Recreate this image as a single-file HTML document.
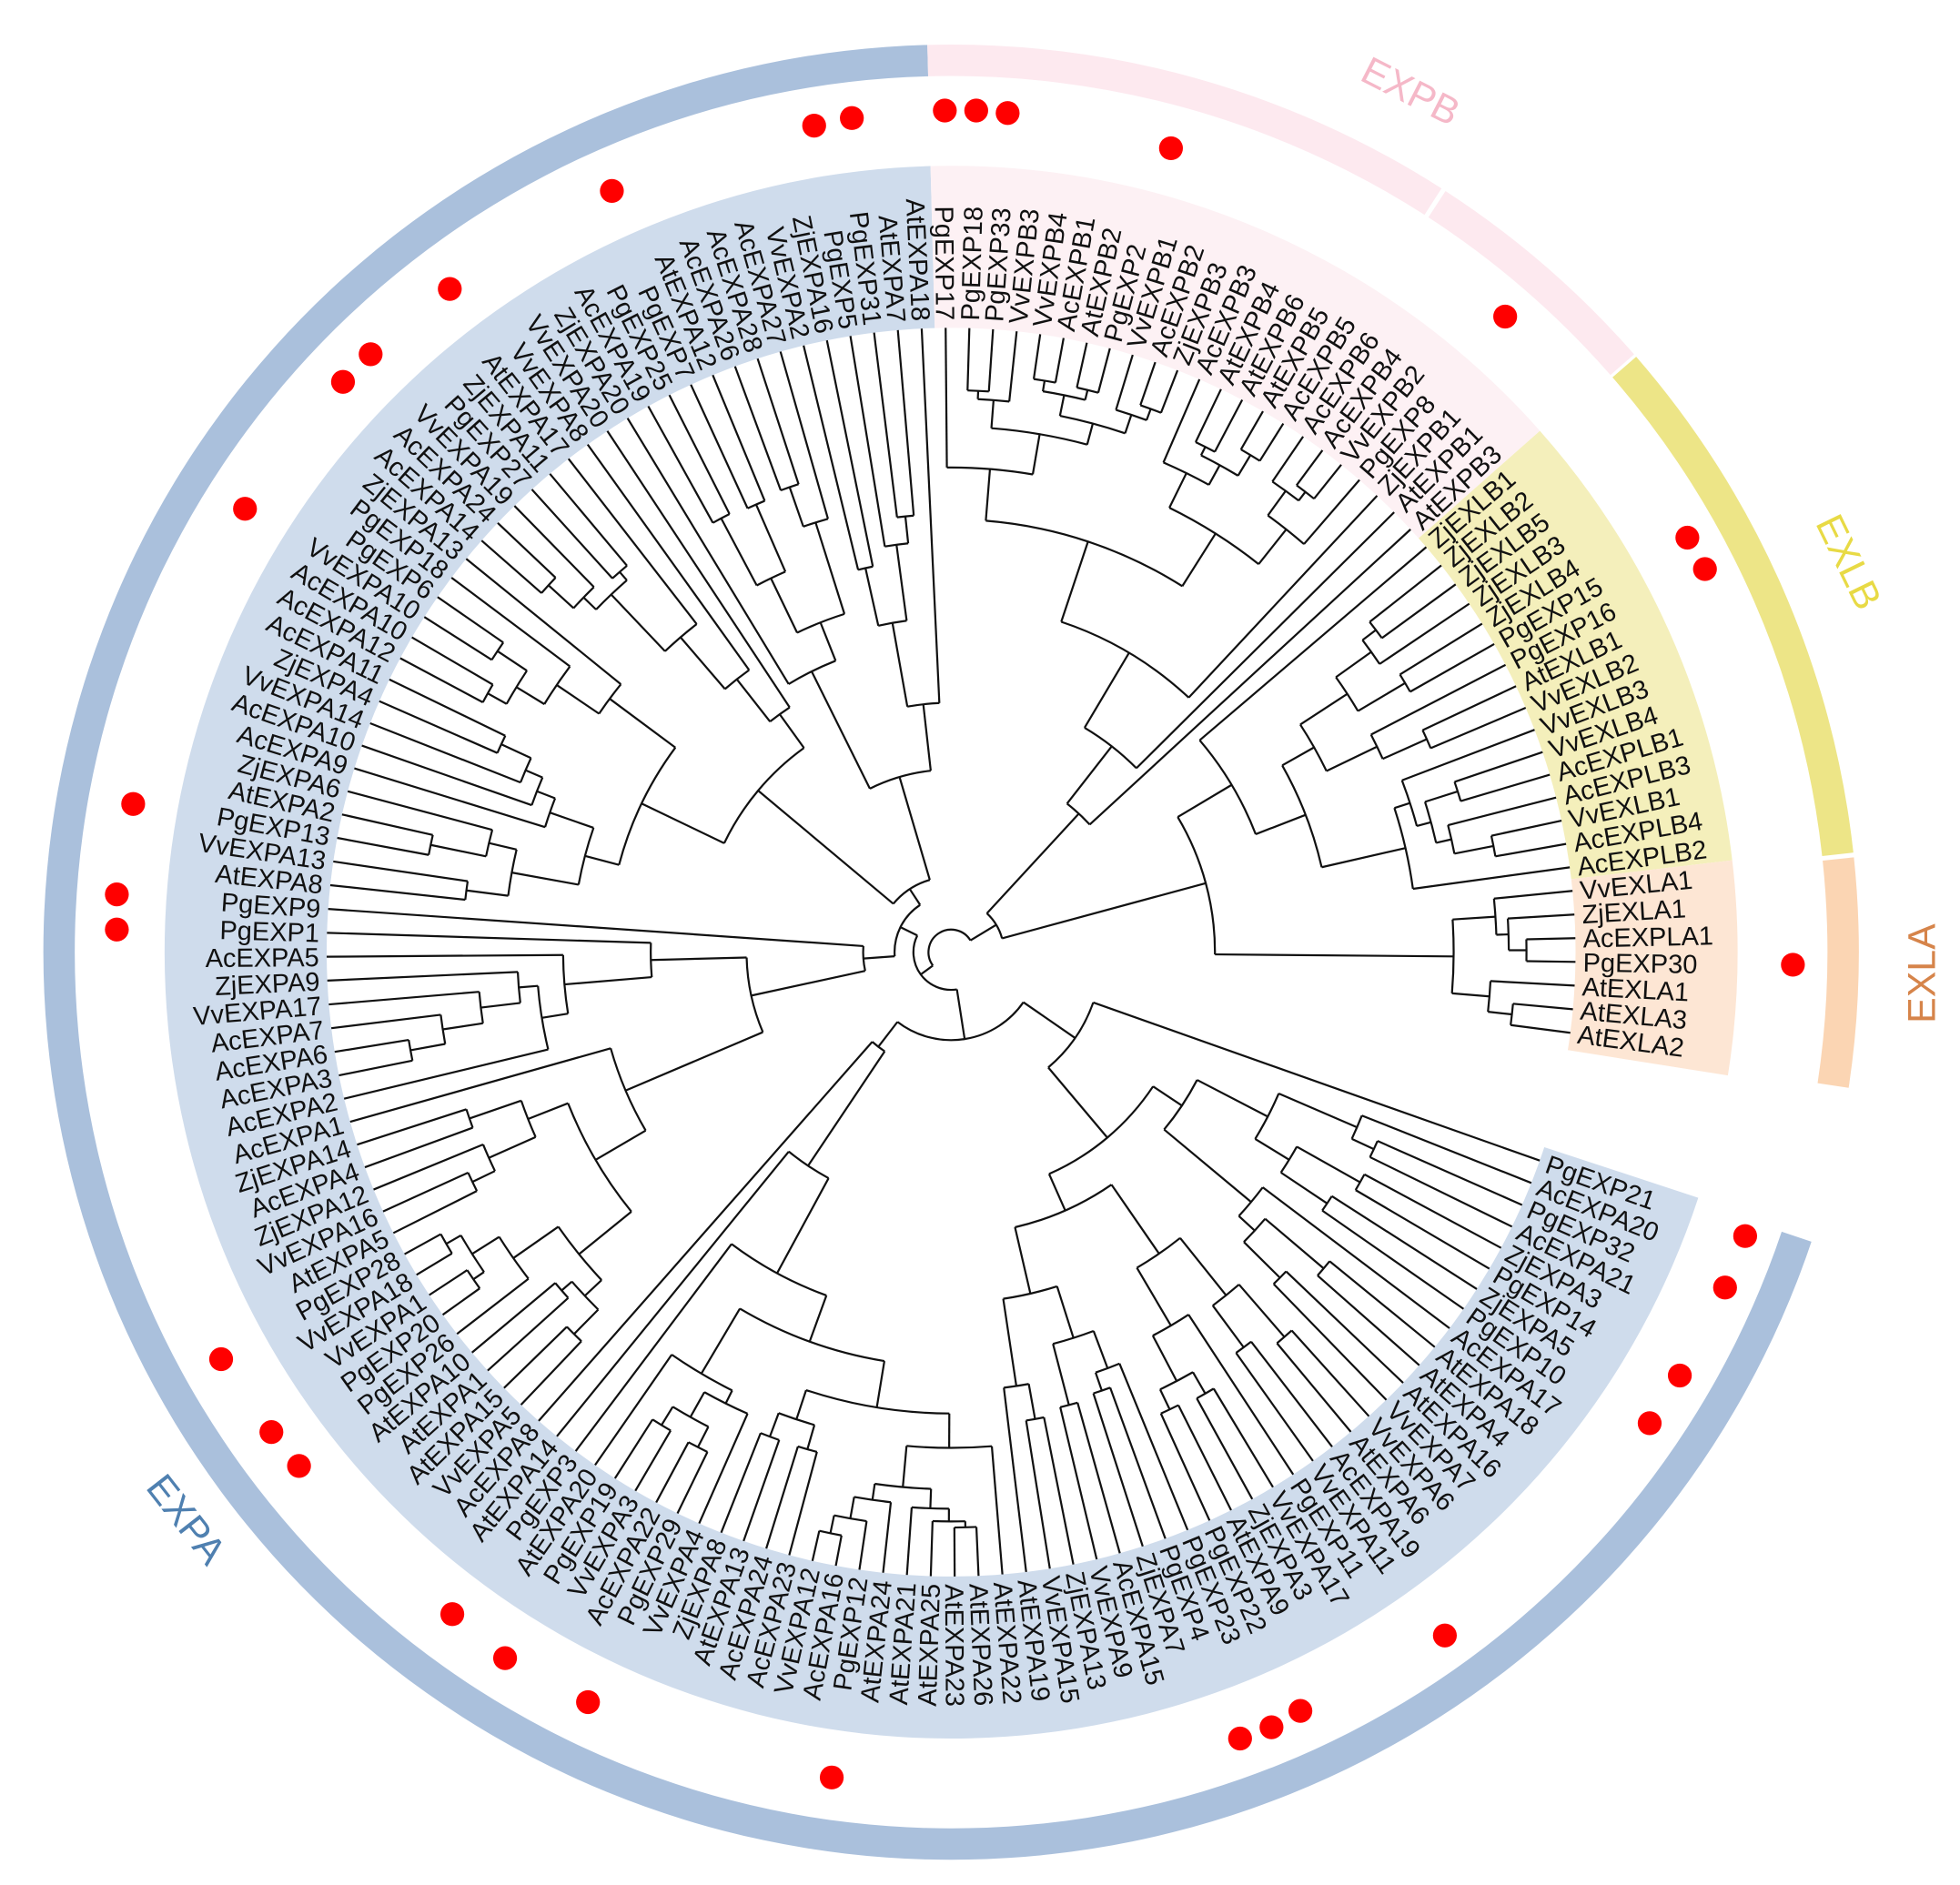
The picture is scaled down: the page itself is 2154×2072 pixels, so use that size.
<!DOCTYPE html>
<html><head><meta charset="utf-8">
<style>
html,body{margin:0;padding:0;background:#fff;}
svg{display:block;}
.l{font-family:"Liberation Sans",Arial,sans-serif;font-size:21px;fill:#111;}
.g{font-family:"Liberation Sans",Arial,sans-serif;font-size:31px;}
</style></head>
<body>
<svg id="s" width="2154" height="2072" viewBox="0 0 1560 1500.6" preserveAspectRatio="none" xmlns="http://www.w3.org/2000/svg">
<g id="bands"></g>
<g id="ring"></g>
<g id="tree" fill="none" stroke="#111" stroke-width="1.6"></g>
<g id="other">
<text class="l">PgEXP17</text><text class="l">PgEXP18</text><text class="l">PgEXP33</text><text class="l">VvEXPB3</text><text class="l">VvEXPB4</text><text class="l">AcEXPB1</text><text class="l">AtEXPB2</text><text class="l">PgEXP2</text><text class="l">VvEXPB1</text><text class="l">AcEXPB2</text><text class="l">ZjEXPB3</text><text class="l">AcEXPB3</text><text class="l">AtEXPB4</text><text class="l">AtEXPB6</text><text class="l">AtEXPB5</text><text class="l">AcEXPB5</text><text class="l">AcEXPB6</text><text class="l">AcEXPB4</text><text class="l">VvEXPB2</text><text class="l">PgEXP8</text><text class="l">ZjEXPB1</text><text class="l">AtEXPB1</text><text class="l">AtEXPB3</text>
<text class="l">ZjEXLB1</text><text class="l">ZjEXLB2</text><text class="l">ZjEXLB5</text><text class="l">ZjEXLB3</text><text class="l">ZjEXLB4</text><text class="l">PgEXP15</text><text class="l">PgEXP16</text><text class="l">AtEXLB1</text><text class="l">VvEXLB2</text><text class="l">VvEXLB3</text><text class="l">VvEXLB4</text><text class="l">AcEXPLB1</text><text class="l">AcEXPLB3</text><text class="l">VvEXLB1</text><text class="l">AcEXPLB4</text><text class="l">AcEXPLB2</text>
<text class="l">VvEXLA1</text><text class="l">ZjEXLA1</text><text class="l">AcEXPLA1</text><text class="l">PgEXP30</text><text class="l">AtEXLA1</text><text class="l">AtEXLA3</text><text class="l">AtEXLA2</text>
</g>
<g id="expa">
<text class="l">AtEXPA18</text><text class="l">AtEXPA7</text><text class="l">PgEXP31</text><text class="l">PgEXP5</text><text class="l">ZjEXPA16</text><text class="l">VvEXPA2</text><text class="l">AcEXPA27</text><text class="l">AcEXPA28</text><text class="l">AcEXPA26</text><text class="l">AtEXPA12</text><text class="l">PgEXP7</text><text class="l">PgEXP25</text><text class="l">AcEXPA19</text><text class="l">ZjEXPA20</text><text class="l">VvEXPA20</text><text class="l">VvEXPA8</text><text class="l">AtEXPA17</text><text class="l">ZjEXPA11</text><text class="l">PgEXP27</text><text class="l">VvEXPA19</text><text class="l">AcEXPA24</text><text class="l">AcEXPA14</text><text class="l">ZjEXPA13</text><text class="l">PgEXP18</text><text class="l">PgEXP6</text><text class="l">VvEXPA10</text><text class="l">AcEXPA10</text><text class="l">AcEXPA12</text><text class="l">AcEXPA11</text><text class="l">ZjEXPA4</text><text class="l">VvEXPA14</text><text class="l">AcEXPA10</text><text class="l">AcEXPA9</text><text class="l">ZjEXPA6</text><text class="l">AtEXPA2</text><text class="l">PgEXP13</text><text class="l">VvEXPA13</text><text class="l">AtEXPA8</text><text class="l">PgEXP9</text><text class="l">PgEXP1</text><text class="l">AcEXPA5</text><text class="l">ZjEXPA9</text><text class="l">VvEXPA17</text><text class="l">AcEXPA7</text><text class="l">AcEXPA6</text><text class="l">AcEXPA3</text><text class="l">AcEXPA2</text><text class="l">AcEXPA1</text><text class="l">ZjEXPA14</text><text class="l">AcEXPA4</text><text class="l">ZjEXPA12</text><text class="l">VvEXPA16</text><text class="l">AtEXPA5</text><text class="l">PgEXP28</text><text class="l">VvEXPA18</text><text class="l">VvEXPA1</text><text class="l">PgEXP20</text><text class="l">PgEXP26</text><text class="l">AtEXPA10</text><text class="l">AtEXPA1</text><text class="l">AtEXPA15</text><text class="l">VvEXPA5</text><text class="l">AcEXPA8</text><text class="l">AtEXPA14</text><text class="l">PgEXP3</text><text class="l">AtEXPA20</text><text class="l">PgEXP19</text><text class="l">VvEXPA3</text><text class="l">AcEXPA22</text><text class="l">PgEXP29</text><text class="l">VvEXPA4</text><text class="l">ZjEXPA8</text><text class="l">AtEXPA13</text><text class="l">AcEXPA24</text><text class="l">AcEXPA23</text><text class="l">VvEXPA12</text><text class="l">AcEXPA16</text><text class="l">PgEXP12</text><text class="l">AtEXPA24</text><text class="l">AtEXPA21</text><text class="l">AtEXPA25</text><text class="l">AtEXPA23</text><text class="l">AtEXPA26</text><text class="l">AtEXPA22</text><text class="l">AtEXPA19</text><text class="l">VvEXPA15</text><text class="l">ZjEXPA13</text><text class="l">VvEXPA9</text><text class="l">AcEXPA15</text><text class="l">ZjEXPA7</text><text class="l">PgEXP4</text><text class="l">PgEXP23</text><text class="l">PgEXP22</text><text class="l">AtEXPA9</text><text class="l">ZjEXPA3</text><text class="l">VvEXPA17</text><text class="l">PgEXP11</text><text class="l">VvEXPA11</text><text class="l">AcEXPA19</text><text class="l">AtEXPA6</text><text class="l">VvEXPA6</text><text class="l">VvEXPA7</text><text class="l">AtEXPA16</text><text class="l">AtEXPA4</text><text class="l">AtEXPA18</text><text class="l">AcEXPA17</text><text class="l">PgEXP10</text><text class="l">ZjEXPA5</text><text class="l">PgEXP14</text><text class="l">ZjEXPA3</text><text class="l">AcEXPA21</text><text class="l">PgEXP32</text><text class="l">AcEXPA20</text><text class="l">PgEXP21</text>
</g>
<g fill="#ff0000">
<circle cx="648" cy="100" r="9.5"/><circle cx="678" cy="94" r="9.5"/><circle cx="752" cy="88" r="9.5"/><circle cx="777" cy="88" r="9.5"/><circle cx="802" cy="90" r="9.5"/><circle cx="932" cy="118" r="9.5"/><circle cx="487" cy="152" r="9.5"/><circle cx="358" cy="230" r="9.5"/><circle cx="295" cy="282" r="9.5"/><circle cx="273" cy="304" r="9.5"/><circle cx="195" cy="405" r="9.5"/><circle cx="1198" cy="252" r="9.5"/><circle cx="1343" cy="428" r="9.5"/><circle cx="1357" cy="453" r="9.5"/><circle cx="106" cy="640" r="9.5"/><circle cx="93" cy="712" r="9.5"/><circle cx="93" cy="740" r="9.5"/><circle cx="1427" cy="768" r="9.5"/><circle cx="1389" cy="984" r="9.5"/><circle cx="1373" cy="1025" r="9.5"/><circle cx="1337" cy="1095" r="9.5"/><circle cx="1313" cy="1133" r="9.5"/><circle cx="176" cy="1082" r="9.5"/><circle cx="216" cy="1140" r="9.5"/><circle cx="238" cy="1167" r="9.5"/><circle cx="1150" cy="1302" r="9.5"/><circle cx="360" cy="1285" r="9.5"/><circle cx="402" cy="1320" r="9.5"/><circle cx="468" cy="1355" r="9.5"/><circle cx="1035" cy="1362" r="9.5"/><circle cx="1012" cy="1375" r="9.5"/><circle cx="987" cy="1384" r="9.5"/><circle cx="662" cy="1415" r="9.5"/>
</g>
<text class="g" fill="#f5b8c8" text-anchor="middle" transform="translate(1118,82) rotate(27)">EXPB</text>
<text class="g" fill="#e8da45" text-anchor="middle" transform="translate(1462,452) rotate(64)">EXLB</text>
<text class="g" fill="#d6844a" text-anchor="middle" transform="translate(1540,775) rotate(-90)">EXLA</text>
<text class="g" fill="#4f80b0" text-anchor="middle" transform="translate(140,1216) rotate(52)">EXPA</text>
</svg>
<script>
(function(){
var CX=757,CY=758,TIP=497,LR=503,NS="http://www.w3.org/2000/svg";
function P(a,r){var t=a*Math.PI/180;return [CX+r*Math.cos(t),CY+r*Math.sin(t)];}
function el(tag,attrs,parent){var e=document.createElementNS(NS,tag);for(var k in attrs)e.setAttribute(k,attrs[k]);parent.appendChild(e);return e;}
function arcPath(a1,a2,r){if(a2<a1){var t=a1;a1=a2;a2=t;}var p=P(a1,r),q=P(a2,r);var large=(a2-a1)>180?1:0;return "M"+p[0].toFixed(2)+","+p[1].toFixed(2)+" A"+r+","+r+" 0 "+large+" 1 "+q[0].toFixed(2)+","+q[1].toFixed(2);}
function sector(a1,a2,r1,r2,fill,parent){var p1=P(a1,r2),p2=P(a2,r2),p3=P(a2,r1),p4=P(a1,r1);var large=(a2-a1)>180?1:0;
 var d="M"+p1+" A"+r2+","+r2+" 0 "+large+" 1 "+p2+" L"+p3+" A"+r1+","+r1+" 0 "+large+" 0 "+p4+" Z";el("path",{d:d,fill:fill},parent);}
var bands=document.getElementById("bands"),ring=document.getElementById("ring"),tree=document.getElementById("tree");
var oth=document.querySelectorAll("#other text"),exa=document.querySelectorAll("#expa text");
var oA=[],eA=[];
var s=2.176;
for(var i=0;i<oth.length;i++)oA.push(-90.5+i*s);
var eStart=267.3,eEnd=19.5,n=exa.length,es=(eStart-eEnd)/(n-1);
for(var i=0;i<n;i++)eA.push(eStart-i*es);
function place(t,a){var p=P(a,LR);var c=Math.cos(a*Math.PI/180);
 t.setAttribute("x",p[0]);t.setAttribute("y",p[1]);t.setAttribute("dy","0.36em");
 if(c>=-0.0001){t.setAttribute("transform","rotate("+a+" "+p[0]+" "+p[1]+")");}
 else{t.setAttribute("text-anchor","end");t.setAttribute("transform","rotate("+(a+180)+" "+p[0]+" "+p[1]+")");}}
for(var i=0;i<oth.length;i++)place(oth[i],oA[i]);
for(var i=0;i<n;i++)place(exa[i],eA[i]);
var R1=497,R2=626;
sector(eEnd-1.3,eStart+1.2,R1,R2,"#cfdcec",bands);
sector(-91.5,oA[22]+1.1,R1,R2,"#fdf1f4",bands);
sector(oA[22]+1.1,oA[38]+1.1,R1,R2,"#f4efbb",bands);
sector(oA[38]+1.1,oA[45]+1.6,R1,R2,"#fde6d4",bands);
var RR=710,RW=25;
sector(18.6,268.5,RR-RW/2,RR+RW/2,"#aac0dc",ring);
sector(-91.5,-57.3,RR-RW/2,RR+RW/2,"#fde9ef",ring);
sector(-57,-41.2,RR-RW/2,RR+RW/2,"#fde9ef",ring);
sector(-41,-6.3,RR-RW/2,RR+RW/2,"#ede587",ring);
sector(-6,8.6,RR-RW/2,RR+RW/2,"#fbd5b3",ring);
var seed=7;function rnd(){seed=(seed*16807)%2147483647;return (seed-1)/2147483646;}
function line(a,r1,r2){var p=P(a,r1),q=P(a,r2);el("path",{d:"M"+p[0].toFixed(2)+","+p[1].toFixed(2)+" L"+q[0].toFixed(2)+","+q[1].toFixed(2)},tree);}
function build(ang,r){
 if(ang.length==1)return ang[0];
 var m=ang.length,k;var u=rnd();
 if(m==2)k=1;else if(u<0.45)k=(rnd()<0.5)?1:m-1;else k=1+Math.floor((m-1)*(0.3+0.4*rnd()));
 if(k<1)k=1;if(k>m-1)k=m-1;
 var L=ang.slice(0,k),Rr=ang.slice(k);
 var r1=L.length==1?TIP:r+(TIP-r)*(0.08+0.3*rnd());
 var r2=Rr.length==1?TIP:r+(TIP-r)*(0.08+0.3*rnd());
 var a1=build(L,r1),a2=build(Rr,r2);
 line(a1,r,r1);line(a2,r,r2);
 el("path",{d:arcPath(a1,a2,r)},tree);
 return (a1+a2)/2;}
var expb=oA.slice(0,23),exlb=oA.slice(23,39),exla=oA.slice(39,46);
var rB=150,rLB=260,rLA=400,rBL=210,rO=42;
var aB=build(expb,rB),aLB=build(exlb,rLB),aLA=build(exla,rLA);
line(aLB,rBL,rLB);line(aLA,rBL,rLA);el("path",{d:arcPath(aLB,aLA,rBL)},tree);var aBL=(aLB+aLA)/2;
line(aB,rO,rB);line(aBL,rO,rBL);el("path",{d:arcPath(aB,aBL,rO)},tree);var aO=(aB+aBL)/2;
var eRev=eA.slice().reverse();
seed=23;
function sub(lo,hi,r){return build(eRev.slice(lo,hi),r);}
var c1=sub(0,30,120),c2=sub(30,52,95),c3=sub(52,76,70),c4=sub(76,n,60);
var rE1=70,rE2=30;
line(c1,rE1,120);line(c2,rE1,95);el("path",{d:arcPath(c1,c2,rE1)},tree);var e12=(c1+c2)/2;
line(c3,rE2+15,70);line(c4,rE2+15,60);el("path",{d:arcPath(c3,c4,rE2+15)},tree);var e34=(c3+c4)/2;
line(e12,rE2,rE1);line(e34,rE2,rE2+15);el("path",{d:arcPath(e12,e34,rE2)},tree);var aE=(e12+e34)/2;
var rr=18;line(aE,rr,rE2);var aO2=aO+360;line(aO,rr,rO);
el("path",{d:arcPath(aE,aO2,rr)},tree);
})();
</script>
</body></html>
